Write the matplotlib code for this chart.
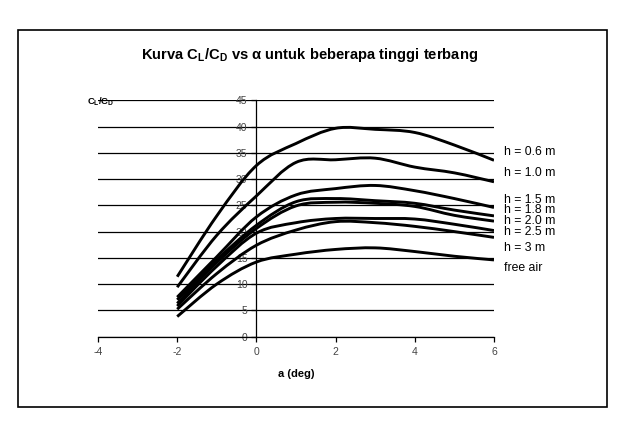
import matplotlib
matplotlib.use("Agg")
import matplotlib.pyplot as plt
from matplotlib.patches import PathPatch, Rectangle
from matplotlib.path import Path
import numpy as np

plt.rcParams.update({
    "font.family": ["Liberation Sans", "DejaVu Sans"],
    "mathtext.fontset": "custom",
    "mathtext.rm": "Liberation Sans",
    "mathtext.it": "Liberation Sans:italic",
    "mathtext.bf": "Liberation Sans:bold",
    "axes.unicode_minus": False,
})

# angle of attack (deg)
alpha = [-2, -1, 0, 1, 2, 3, 4, 5, 6]

# C_L/C_D for each flight height
h06 = [11.4, 23.0, 32.6, 36.8, 39.7, 39.5, 38.9, 36.5, 33.6]
h10 = [9.4, 19.3, 26.8, 33.2, 33.7, 34.0, 32.3, 31.2, 29.5]
h15 = [7.5, 15.2, 22.8, 27.0, 28.2, 28.8, 27.8, 26.3, 24.6]
h18 = [7.0, 14.6, 21.2, 25.7, 26.3, 25.9, 25.4, 24.1, 23.0]
h20 = [6.3, 14.1, 20.6, 24.9, 25.6, 25.4, 24.8, 23.1, 22.0]
h25 = [5.8, 13.4, 19.7, 21.7, 22.5, 22.5, 22.4, 21.4, 20.2]
h30 = [5.2, 12.0, 17.4, 20.3, 21.9, 21.7, 21.0, 20.0, 18.9]
free = [3.8, 10.0, 14.2, 15.7, 16.6, 16.9, 16.2, 15.3, 14.6]

series = [h06, h10, h15, h18, h20, h25, h30, free]
labels = ["h = 0.6 m", "h = 1.0 m", "h = 1.5 m", "h = 1.8 m",
          "h = 2.0 m", "h = 2.5 m", "h = 3 m", "free air"]
label_y = [35.2, 31.1, 26.1, 24.05, 22.05, 19.9, 16.9, 13.1]


def smooth_path(xs, ys):
    # Excel-like smoothed line: cubic Bezier through the points
    p = np.column_stack([xs, ys]).astype(float)
    n = len(p)
    verts = [p[0]]
    codes = [Path.MOVETO]
    for i in range(n - 1):
        p0 = p[max(i - 1, 0)]
        p1 = p[i]
        p2 = p[i + 1]
        p3 = p[min(i + 2, n - 1)]
        verts += [p1 + (p2 - p0) / 6, p2 - (p3 - p1) / 6, p2]
        codes += [Path.CURVE4] * 3
    return Path(verts, codes)


fig = plt.figure(figsize=(6.2, 4.23), dpi=100)
ax = fig.add_axes([98 / 620, 1 - 336.5 / 423, 396 / 620, 236 / 423])
ax.set_xlim(-4, 6)
ax.set_ylim(0, 45)

for ys in series:
    ax.add_patch(PathPatch(smooth_path(alpha, ys), fill=False,
                           ec="black", lw=2.1, zorder=3, capstyle="butt"))

for lab, ly in zip(labels, label_y):
    ax.text(6.25, ly, lab, fontsize=8.8, ha="left", va="center",
            color="black", clip_on=False)

ax.set_yticks(np.arange(0, 46, 5))
ax.set_xticks(np.arange(-4, 7, 2))
ax.yaxis.grid(True, color="black", lw=0.9, zorder=0)
ax.set_axisbelow(True)
for s in ("top", "right"):
    ax.spines[s].set_visible(False)
ax.spines["left"].set_position(("data", 0))
ax.spines["left"].set_linewidth(0.9)
ax.spines["bottom"].set_linewidth(0.9)
ax.tick_params(axis="y", direction="out", length=3.5, width=0.9, pad=3,
               labelsize=7.5, labelcolor="#444444")
ax.tick_params(axis="x", direction="out", length=3.5, width=0.9, pad=4,
               labelsize=7.5, labelcolor="#444444")

ax.set_xlabel("a (deg)", fontsize=8, fontweight="bold", labelpad=9)

fig.text(87 / 620, 1 - 102 / 423, r"C$_\mathbf{L}$/C$_\mathbf{D}$",
         fontsize=6.8, fontweight="bold", ha="left", va="center")
fig.text(310 / 620, 1 - 55 / 423,
         r"Kurva C$_\mathbf{L}$/C$_\mathbf{D}$ vs α untuk beberapa tinggi terbang",
         fontsize=10.6, fontweight="bold", ha="center", va="center")

fig.add_artist(Rectangle((18 / 620, 1 - 407 / 423), 589 / 620, 377 / 423,
                         transform=fig.transFigure, fill=False,
                         ec="black", lw=1.2))

fig.savefig("out.png", dpi=100)
